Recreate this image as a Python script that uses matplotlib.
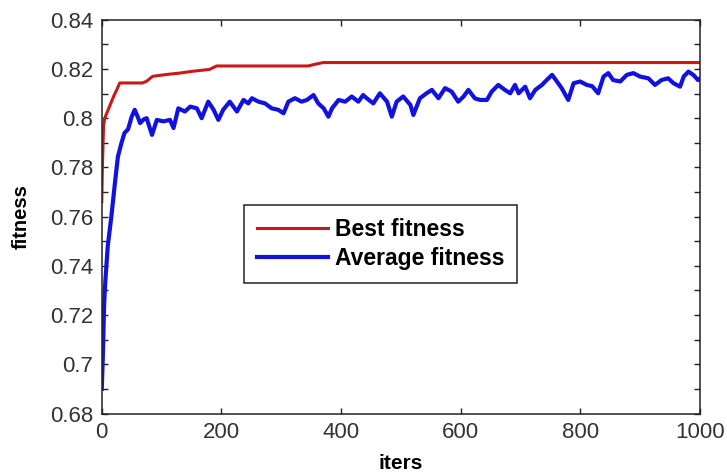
import matplotlib
matplotlib.use("Agg")
import matplotlib.pyplot as plt
from matplotlib.ticker import MultipleLocator

plt.rcParams["font.family"] = ["Liberation Sans", "DejaVu Sans"]

# best fitness (step-like curve)
best_iters = [0, 1, 3, 5, 10, 15, 20, 25, 30, 68, 75, 85, 110, 130, 150,
              180, 192, 345, 355, 370, 1000]
best_fit = [0.766, 0.780, 0.797, 0.800, 0.803, 0.806, 0.809, 0.8115, 0.8143,
            0.8143, 0.8150, 0.8170, 0.8178, 0.8183, 0.8190, 0.8198, 0.8212,
            0.8212, 0.8218, 0.8226, 0.8226]

# average fitness (noisy curve)
avg_iters = [0, 2, 4, 6, 10, 16, 22, 27, 33, 38, 44, 50, 55, 60, 64, 70, 75,
             84, 92, 103, 114, 120, 128, 139, 148, 159, 167, 178, 187, 195,
             203, 214, 226, 237, 245, 251, 262, 273, 284, 295, 304, 312, 323,
             334, 343, 354, 362, 371, 379, 385, 396, 407, 418, 429, 437, 443,
             454, 465, 477, 485, 493, 504, 516, 521, 532, 543, 552, 563, 574,
             585, 596, 605, 613, 624, 633, 644, 652, 663, 674, 683, 691, 697,
             708, 716, 725, 736, 744, 753, 761, 769, 780, 789, 800, 811, 820,
             830, 839, 847, 855, 867, 878, 889, 900, 914, 925, 936, 947, 956,
             967, 973, 981, 989, 997, 1000]
avg_fit = [0.690, 0.705, 0.725, 0.734, 0.748, 0.760, 0.7737, 0.7844, 0.790,
           0.794, 0.7955, 0.8006, 0.8034, 0.8006, 0.798, 0.7995, 0.800,
           0.7932, 0.7993, 0.7987, 0.7993, 0.796, 0.804, 0.8027, 0.8047,
           0.804, 0.800, 0.8067, 0.8034, 0.7993, 0.8034, 0.8067, 0.8027,
           0.8074, 0.806, 0.8081, 0.8067, 0.806, 0.804, 0.8034, 0.802, 0.8067,
           0.8081, 0.8067, 0.8074, 0.8094, 0.806, 0.804, 0.8006, 0.804,
           0.8074, 0.8067, 0.8088, 0.8067, 0.8094, 0.8081, 0.806, 0.8101,
           0.8067, 0.8006, 0.8067, 0.8088, 0.8054, 0.8013, 0.8081, 0.8101,
           0.8115, 0.8081, 0.8122, 0.8108, 0.8067, 0.8088, 0.8115, 0.8080,
           0.8074, 0.8074, 0.8108, 0.8135, 0.8115, 0.8101, 0.8135, 0.8101,
           0.8128, 0.8081, 0.8115, 0.8135, 0.8155, 0.8176, 0.8149, 0.8122,
           0.8074, 0.8142, 0.8149, 0.8135, 0.8130, 0.8101, 0.8169, 0.8183,
           0.8155, 0.8149, 0.8176, 0.8183, 0.8169, 0.8162, 0.8135, 0.8155,
           0.8162, 0.8142, 0.8128, 0.8169, 0.8189, 0.8176, 0.8155, 0.816]

fig = plt.figure(figsize=(7.27, 4.74), dpi=100)
ax = fig.add_axes([0.140, 0.1276, 0.8226, 0.8308])

ax.plot(best_iters, best_fit, color="#c81818", lw=2.2, label="Best fitness")
ax.plot(avg_iters, avg_fit, color="#1212e0", lw=3.0, label="Average fitness")

ax.set_xlim(0, 1000)
ax.set_ylim(0.68, 0.84)
ax.xaxis.set_major_locator(MultipleLocator(200))
ax.yaxis.set_major_locator(MultipleLocator(0.02))
ax.yaxis.set_minor_locator(MultipleLocator(0.01))
ax.set_yticklabels([f"{v:g}" for v in ax.get_yticks()])

ax.tick_params(which="both", direction="in", top=True, right=True,
               length=4, width=1, color="#222222")
ax.tick_params(labelsize=16, labelcolor="#333333")
ax.tick_params(axis="x", pad=6)
ax.tick_params(axis="y", pad=6)
for s in ax.spines.values():
    s.set_color("#222222")
    s.set_linewidth(1.1)

ax.set_xlabel("iters", fontsize=15, fontweight="bold", labelpad=8)
ax.set_ylabel("fitness", fontsize=14.5, fontweight="bold", labelpad=14)

leg = ax.legend(loc="upper left", bbox_to_anchor=(0.238, 0.5295),
                borderaxespad=0, fancybox=False, framealpha=1,
                edgecolor="#222222", handlelength=3.1, handletextpad=0.3,
                borderpad=0.55, labelspacing=0.3,
                prop={"size": 16.5, "weight": "bold"})
leg.get_frame().set_linewidth(1.1)

fig.savefig("out.png", dpi=100)
